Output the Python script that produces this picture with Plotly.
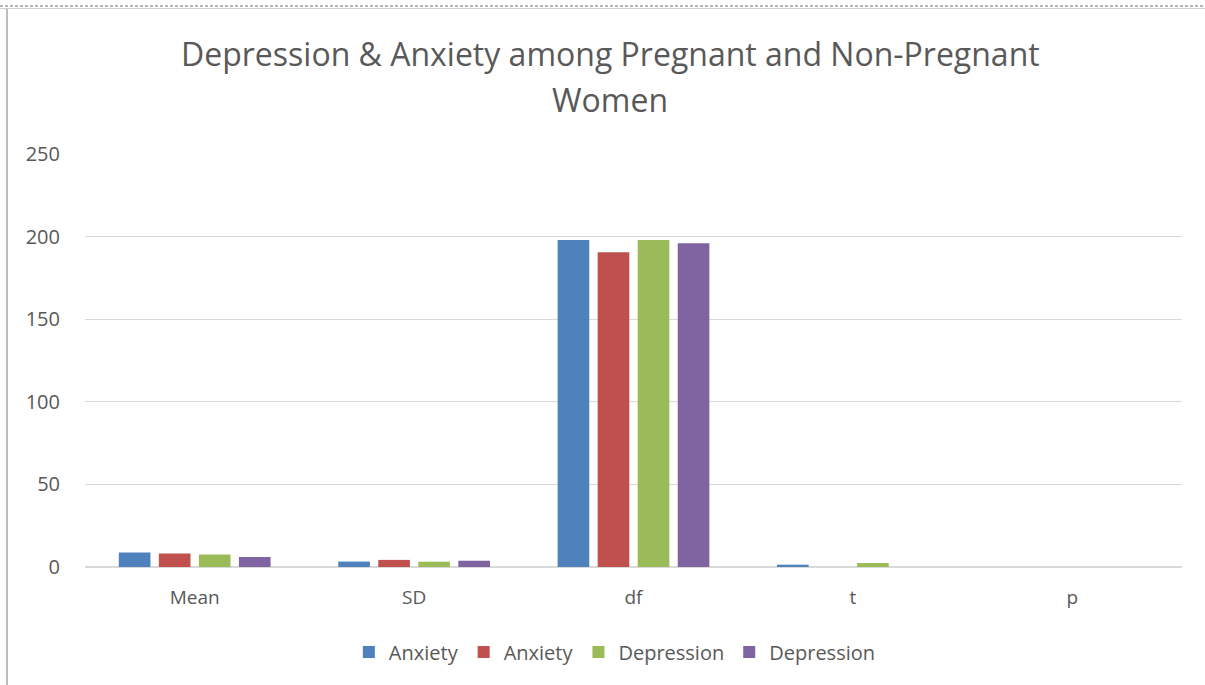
import plotly.graph_objects as go

# Group statistics for each measure
categories = ["Mean", "SD", "df", "t", "p"]
series_names = ["Anxiety", "Anxiety", "Depression", "Depression"]
anxiety_1 = [8.8, 3.3, 198, 1.4, 0]
anxiety_2 = [8.2, 4.3, 190.5, 0, 0]
depression_1 = [7.6, 3.2, 198, 2.4, 0]
depression_2 = [6.0, 3.8, 196, 0, 0]
y_ticks = [0, 50, 100, 150, 200, 250]

colors = ["#4F81BD", "#C0504D", "#9BBB59", "#8064A2"]
text_color = "#595959"
font_family = "Open Sans"

W, H = 1205, 685
ML, MR, MT, MB = 85, 23, 154, 118
PW, PH = W - ML - MR, H - MT - MB


def px_to_paper_x(px):
    return (px - ML) / PW


def px_to_paper_y(py):
    return (H - MB - py) / PH


fig = go.Figure()
for name, vals, col in zip(series_names,
                           [anxiety_1, anxiety_2, depression_1, depression_2],
                           colors):
    fig.add_trace(go.Bar(x=categories, y=vals, name=name,
                         marker=dict(color=col, line=dict(width=0))))

fig.update_layout(
    width=W, height=H,
    margin=dict(l=ML, r=MR, t=MT, b=MB),
    paper_bgcolor="white", plot_bgcolor="white",
    barmode="group", bargap=0.27, bargroupgap=0.21,
    font=dict(family=font_family, color=text_color, size=19),
    showlegend=True,
    legend=dict(orientation="h", x=0.483, xanchor="center",
                y=px_to_paper_y(652), yanchor="middle",
                font=dict(size=20, color=text_color),
                itemwidth=30, traceorder="normal"),
    xaxis=dict(showgrid=False, showline=False, zeroline=False,
               ticks="outside", ticklen=13, tickcolor="rgba(0,0,0,0)",
               tickfont=dict(size=19, color=text_color)),
    yaxis=dict(range=[0, 250], tickvals=y_ticks, showgrid=True,
               gridcolor="#D9D9D9", gridwidth=1.3, zeroline=True,
               zerolinecolor="#D9D9D9", zerolinewidth=2, showline=False,
               ticks="outside", ticklen=20, tickcolor="rgba(0,0,0,0)",
               tickfont=dict(size=20, color=text_color)),
)

# Two-line chart title
title_lines = ["Depression & Anxiety among Pregnant and Non-Pregnant", "Women"]
for line, py in zip(title_lines, [54, 100]):
    fig.add_annotation(text=line, xref="paper", yref="paper",
                       x=px_to_paper_x(610), y=px_to_paper_y(py),
                       xanchor="center", yanchor="middle", showarrow=False,
                       font=dict(size=32, color=text_color, family=font_family))

# Chart frame: dashed top edge and solid left edge
fig.add_shape(type="line", xref="paper", yref="paper",
              x0=px_to_paper_x(0), x1=px_to_paper_x(W),
              y0=px_to_paper_y(6), y1=px_to_paper_y(6),
              line=dict(color="#6E6E6E", width=1, dash="3px,2px"))
fig.add_shape(type="line", xref="paper", yref="paper",
              x0=px_to_paper_x(0), x1=px_to_paper_x(W),
              y0=px_to_paper_y(8.5), y1=px_to_paper_y(8.5),
              line=dict(color="#D0D0D0", width=1))
fig.add_shape(type="line", xref="paper", yref="paper",
              x0=px_to_paper_x(7), x1=px_to_paper_x(7),
              y0=px_to_paper_y(9), y1=px_to_paper_y(H),
              line=dict(color="#A6A6A6", width=1.5))

fig.write_html("out.html")
